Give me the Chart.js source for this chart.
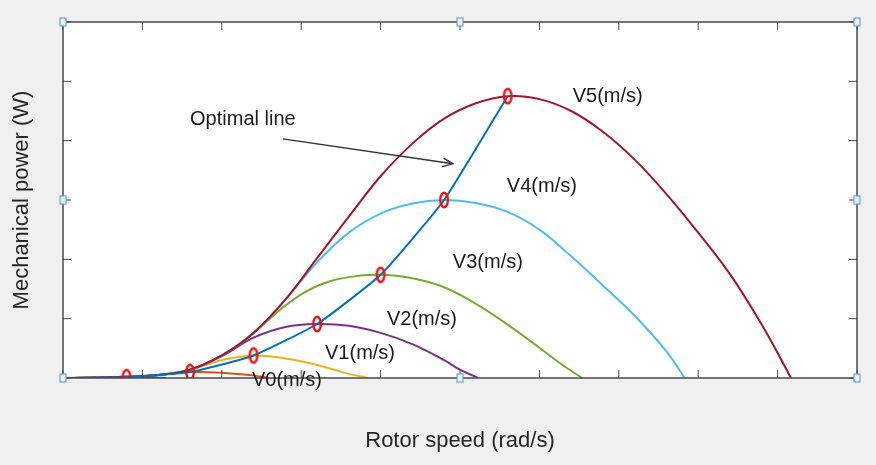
<!DOCTYPE html>
<html>
<head>
<meta charset="utf-8">
<script src="https://cdn.jsdelivr.net/npm/chart.js@4.4.1/dist/chart.umd.min.js"></script>
<style>
  html, body { margin: 0; padding: 0; background: #f0f0f0; }
  #wrap { width: 876px; height: 465px; }
</style>
</head>
<body>
<div id="wrap"><canvas id="grafico"></canvas></div>
<script>
// curvas de potencia mecanica
const vS_x = [0, 0.4, 0.8, 1.1, 1.3];
const vS_y = [0, 0.005, 0.014, 0.008, 0];

const v0_x = [0, 0.8, 1.2, 1.6, 2.0, 2.4, 2.6];
const v0_y = [0, 0.02, 0.05, 0.1, 0.09, 0.04, 0];

const v1_x = [0, 0.8, 1.2, 1.6, 2.0, 2.4, 2.8, 3.2, 3.6, 3.84];
const v1_y = [0, 0.02, 0.05, 0.14, 0.3, 0.38, 0.33, 0.22, 0.07, 0];

const v2_x = [0, 0.8, 1.2, 1.6, 2.0, 2.4, 2.8, 3.2, 3.6, 4.0, 4.4, 4.8, 5.0, 5.23];
const v2_y = [0, 0.02, 0.05, 0.14, 0.37, 0.68, 0.86, 0.91, 0.88, 0.76, 0.57, 0.3, 0.14, 0];

const v3_x = [0, 0.8, 1.2, 1.6, 2.0, 2.4, 2.8, 3.2, 3.6, 4.0, 4.4, 4.8, 5.2, 5.6, 6.0, 6.3, 6.54];
const v3_y = [0, 0.02, 0.05, 0.14, 0.38, 0.76, 1.22, 1.55, 1.7, 1.74, 1.68, 1.53, 1.25, 0.9, 0.51, 0.21, 0];

const v4_x = [0, 0.8, 1.2, 1.6, 2.0, 2.4, 2.8, 3.2, 3.6, 4.0, 4.4, 4.8, 5.2, 5.6, 6.0, 6.4, 6.8, 7.2, 7.6, 7.83];
const v4_y = [0, 0.02, 0.05, 0.14, 0.38, 0.76, 1.32, 1.95, 2.45, 2.77, 2.94, 3.0, 2.95, 2.8, 2.5, 2.05, 1.56, 1.05, 0.45, 0];

const v5_x = [0, 0.8, 1.2, 1.6, 2.0, 2.4, 2.8, 3.2, 3.6, 4.0, 4.4, 4.8, 5.2, 5.6, 6.0, 6.4, 6.8, 7.2, 7.6, 8.0, 8.4, 8.8, 9.17];
const v5_y = [0, 0.02, 0.05, 0.14, 0.38, 0.76, 1.32, 2.02, 2.72, 3.4, 3.95, 4.37, 4.63, 4.75, 4.7, 4.5, 4.15, 3.68, 3.1, 2.45, 1.75, 0.9, 0];

// linha otima e pontos de potencia maxima
const otimo_x = [0, 0.8, 1.6, 2.4, 3.2, 4.0, 4.8, 5.6];
const otimo_y = [0, 0.014, 0.1, 0.38, 0.91, 1.74, 3.0, 4.75];
const picos_x = [0.8, 1.6, 2.4, 3.2, 4.0, 4.8, 5.6];
const picos_y = [0.014, 0.1, 0.38, 0.91, 1.74, 3.0, 4.75];

// textos da figura
const rotulos = ['V5(m/s)', 'V4(m/s)', 'V3(m/s)', 'V2(m/s)', 'V1(m/s)', 'V0(m/s)', 'Optimal line'];
const rotulosPos = [[6.42, 4.74], [5.59, 3.22], [4.91, 1.94], [4.08, 0.98], [3.3, 0.42], [2.38, -0.05], [1.6, 4.35]];
const setaPos = [[2.77, 4.03], [4.91, 3.61]];

const pts = (xs, ys) => xs.map((x, i) => ({ x: x, y: ys[i] }));

// marcador elipse vermelho
const mk = document.createElement('canvas');
mk.width = 12; mk.height = 18;
const mctx = mk.getContext('2d');
mctx.strokeStyle = '#ee1111';
mctx.lineWidth = 2.4;
mctx.beginPath();
mctx.ellipse(6, 9, 3.8, 7.2, 0, 0, Math.PI * 2);
mctx.stroke();

function curva(dados, cor, ordem, tensao) {
  return {
    data: dados,
    borderColor: cor,
    borderWidth: 2,
    pointRadius: 0,
    tension: tensao,
    fill: false,
    order: ordem
  };
}

const fundo = {
  id: 'fundo',
  beforeDraw(chart) {
    const c = chart.ctx, a = chart.chartArea;
    c.save();
    c.fillStyle = '#f0f0f0';
    c.fillRect(0, 0, chart.width, chart.height);
    c.fillStyle = '#ffffff';
    c.fillRect(a.left, a.top, a.right - a.left, a.bottom - a.top);
    c.restore();
  },
  afterDraw(chart) {
    const c = chart.ctx, a = chart.chartArea;
    const sx = chart.scales.x, sy = chart.scales.y;
    c.save();
    // moldura e ticks para dentro
    c.strokeStyle = '#4a4a4a';
    c.lineWidth = 1.5;
    c.strokeRect(a.left, a.top, a.right - a.left, a.bottom - a.top);
    c.lineWidth = 1;
    c.beginPath();
    sx.ticks.forEach(t => {
      const px = sx.getPixelForValue(t.value);
      c.moveTo(px, a.bottom); c.lineTo(px, a.bottom - 8);
      c.moveTo(px, a.top); c.lineTo(px, a.top + 8);
    });
    sy.ticks.forEach(t => {
      const py = sy.getPixelForValue(t.value);
      c.moveTo(a.left, py); c.lineTo(a.left + 8, py);
      c.moveTo(a.right, py); c.lineTo(a.right - 8, py);
    });
    c.stroke();

    // textos
    c.fillStyle = '#1a1a1a';
    c.font = '20px "Liberation Sans", Arial, sans-serif';
    c.textAlign = 'left';
    c.textBaseline = 'middle';
    rotulos.forEach((txt, i) => {
      c.fillText(txt, sx.getPixelForValue(rotulosPos[i][0]), sy.getPixelForValue(rotulosPos[i][1]));
    });

    // seta
    const x1 = sx.getPixelForValue(setaPos[0][0]), y1 = sy.getPixelForValue(setaPos[0][1]);
    const x2 = sx.getPixelForValue(setaPos[1][0]), y2 = sy.getPixelForValue(setaPos[1][1]);
    const ang = Math.atan2(y2 - y1, x2 - x1);
    c.strokeStyle = '#333333';
    c.lineWidth = 1.4;
    c.beginPath();
    c.moveTo(x1, y1); c.lineTo(x2, y2);
    c.moveTo(x2 - 11 * Math.cos(ang - 0.4), y2 - 11 * Math.sin(ang - 0.4));
    c.lineTo(x2, y2);
    c.lineTo(x2 - 11 * Math.cos(ang + 0.4), y2 - 11 * Math.sin(ang + 0.4));
    c.stroke();

    // alcas de selecao
    const mx = (a.left + a.right) / 2, my = (a.top + a.bottom) / 2;
    [[a.left, a.top], [mx, a.top], [a.right, a.top], [a.left, my], [a.right, my],
     [a.left, a.bottom], [mx, a.bottom], [a.right, a.bottom]].forEach(p => {
      c.fillStyle = '#eaf2fb';
      c.strokeStyle = '#6fa3d6';
      c.lineWidth = 1.2;
      c.fillRect(p[0] - 3, p[1] - 4, 6, 8);
      c.strokeRect(p[0] - 3, p[1] - 4, 6, 8);
    });
    c.restore();
  }
};

const ctx = document.getElementById('grafico').getContext('2d');
const chart = new Chart(ctx, {
  type: 'line',
  data: {
    datasets: [
      {
        data: pts(picos_x, picos_y),
        showLine: false,
        pointStyle: mk,
        pointRadius: 6,
        order: 0
      },
      curva(pts(otimo_x, otimo_y), '#0072bd', 1, 0.15),
      curva(pts(v5_x, v5_y), '#a2142f', 2, 0.4),
      curva(pts(v4_x, v4_y), '#4dbeee', 3, 0.4),
      curva(pts(v3_x, v3_y), '#77ac30', 4, 0.4),
      curva(pts(v2_x, v2_y), '#7e2f8e', 5, 0.4),
      curva(pts(v1_x, v1_y), '#edb120', 6, 0.4),
      curva(pts(v0_x, v0_y), '#d95319', 7, 0.4),
      curva(pts(vS_x, vS_y), '#0072bd', 8, 0.4)
    ]
  },
  options: {
    responsive: true,
    maintainAspectRatio: false,
    animation: false,
    layout: { padding: { top: 22, right: 19, left: 0, bottom: 0 } },
    plugins: { legend: { display: false }, tooltip: { enabled: false } },
    scales: {
      x: {
        type: 'linear',
        min: 0,
        max: 10,
        ticks: { display: false, stepSize: 1 },
        grid: { display: false, drawTicks: false },
        border: { display: false },
        title: {
          display: true,
          text: 'Rotor speed (rad/s)',
          color: '#262626',
          font: { family: '"Liberation Sans", Arial, sans-serif', size: 22 },
          padding: { top: 49.8, bottom: 10.8 }
        }
      },
      y: {
        type: 'linear',
        min: 0,
        max: 6,
        ticks: { display: false, stepSize: 1 },
        grid: { display: false, drawTicks: false },
        border: { display: false },
        title: {
          display: true,
          text: 'Mechanical power (W)',
          color: '#262626',
          font: { family: '"Liberation Sans", Arial, sans-serif', size: 22 },
          padding: { top: 8.8, bottom: 27.8 }
        }
      }
    }
  },
  plugins: [fundo]
});
</script>
</body>
</html>
